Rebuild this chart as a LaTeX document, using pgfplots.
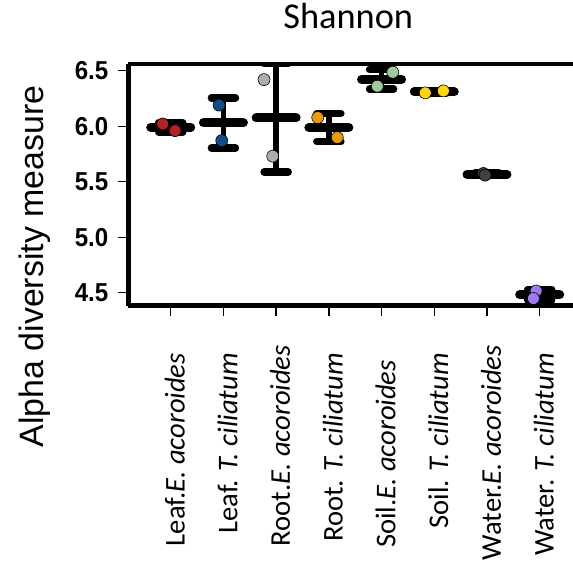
\documentclass[border=0pt]{standalone}
\usepackage{pgfplots}
\pgfplotsset{compat=1.18}
\usepackage{pgfplotstable}
\usepackage{fontspec}
\setmainfont{Carlito}
\newfontfamily\arialf{Liberation Sans}
\newfontfamily\tickf{Liberation Sans}[FakeStretch=0.93]

\definecolor{c1}{HTML}{B22222}
\definecolor{c2}{HTML}{104E8B}
\definecolor{c3}{HTML}{ADADAD}
\definecolor{c4}{HTML}{EE9A00}
\definecolor{c5}{HTML}{9BCD9B}
\definecolor{c6}{HTML}{FFD700}
\definecolor{c7}{HTML}{404040}
\definecolor{c8}{HTML}{9F79EE}

% group, mean, standard deviation
\pgfplotstableread{
x m sd
1 5.990 0.042
2 6.030 0.226
3 6.075 0.488
4 5.988 0.127
5 6.423 0.089
6 6.309 0.013
7 5.566 0.011
8 4.482 0.048
}\stats

\begin{document}
\begin{tikzpicture}
\useasboundingbox (0,0) rectangle (573bp,575bp);
\begin{axis}[
  at={(128.3bp,269.5bp)}, anchor=south west,
  scale only axis, width=451.7bp, height=241.7bp,
  xmin=0.195, xmax=8.765, ymin=4.385, ymax=6.562,
  axis x line=box, axis y line=left,
  axis line style={line width=4.5bp},
  every outer x axis line/.append style={-},
  every outer y axis line/.append style={-},
  every inner x axis line/.append style={-},
  every inner y axis line/.append style={-},
  xtick pos=left, ytick pos=left,
  tick align=outside, major tick length=10.5bp,
  tick style={line width=1.3bp, black},
  xtick={1,...,8},
  xticklabels={
    Leaf.\textit{E. acoroides}\hspace*{8bp},
    Leaf. \textit{T. ciliatum}\hspace*{8bp},
    Root.\textit{E. acoroides},
    Root. \textit{T. ciliatum}\hspace*{8bp},
    Soil.\textit{E. acoroides}\hspace*{15bp},
    Soil. \textit{T. ciliatum}\hspace*{8bp},
    Water.\textit{E. acoroides},
    Water. \textit{T. ciliatum}\hspace*{8bp}},
  xticklabel shift=29bp,
  xticklabel style={xshift=4bp, rotate=90, anchor=east, inner sep=0pt,
    font=\fontsize{28.7}{30}\selectfont},
  ytick={4.5,5.0,5.5,6.0,6.5},
  yticklabels={4.5,5.0,5.5,6.0,6.5},
  yticklabel style={xshift=-6bp, font=\tickf\bfseries\fontsize{26}{26}\selectfont},
  title={Shannon},
  title style={at={(axis description cs:0.487,1.1221)}, anchor=base,
    font=\fontsize{36.5}{38}\selectfont},
  ylabel={Alpha diversity measure},
  ylabel style={at={(axis description cs:-0.1888,0.1614)}, anchor=base,
    font=\arialf\fontsize{34}{36}\selectfont},
  axis on top,
]
\addplot[only marks, black, mark=-, mark size=20bp,
  mark options={line width=9bp, line cap=round},
  error bars/.cd, y dir=both, y explicit,
  error mark=|,
  error mark options={line width=7.5bp, mark size=12bp, line cap=round},
  error bar style={line width=5.5bp}]
  table[x=x, y=m, y error=sd] {\stats};

\pgfplotsset{every axis plot/.append style={only marks, mark=*, mark size=6bp,
  mark options={draw=black, line width=0.6bp}}}
\addplot[fill=c1] coordinates {(0.848,6.020) (1.082,5.960)};
\addplot[fill=c2] coordinates {(1.918,6.190) (1.968,5.870)};
\addplot[fill=c3] coordinates {(2.770,6.420) (2.935,5.730)};
\addplot[fill=c4] coordinates {(3.789,6.078) (4.161,5.898)};
\addplot[fill=c5] coordinates {(5.213,6.486) (4.920,6.360)};
\addplot[fill=c6] coordinates {(5.829,6.300) (6.173,6.318)};
\addplot[fill=c7] coordinates {(6.932,5.574) (6.964,5.559)};
\addplot[fill=c8] coordinates {(7.932,4.516) (7.881,4.448)};
\end{axis}
\end{tikzpicture}
\end{document}
